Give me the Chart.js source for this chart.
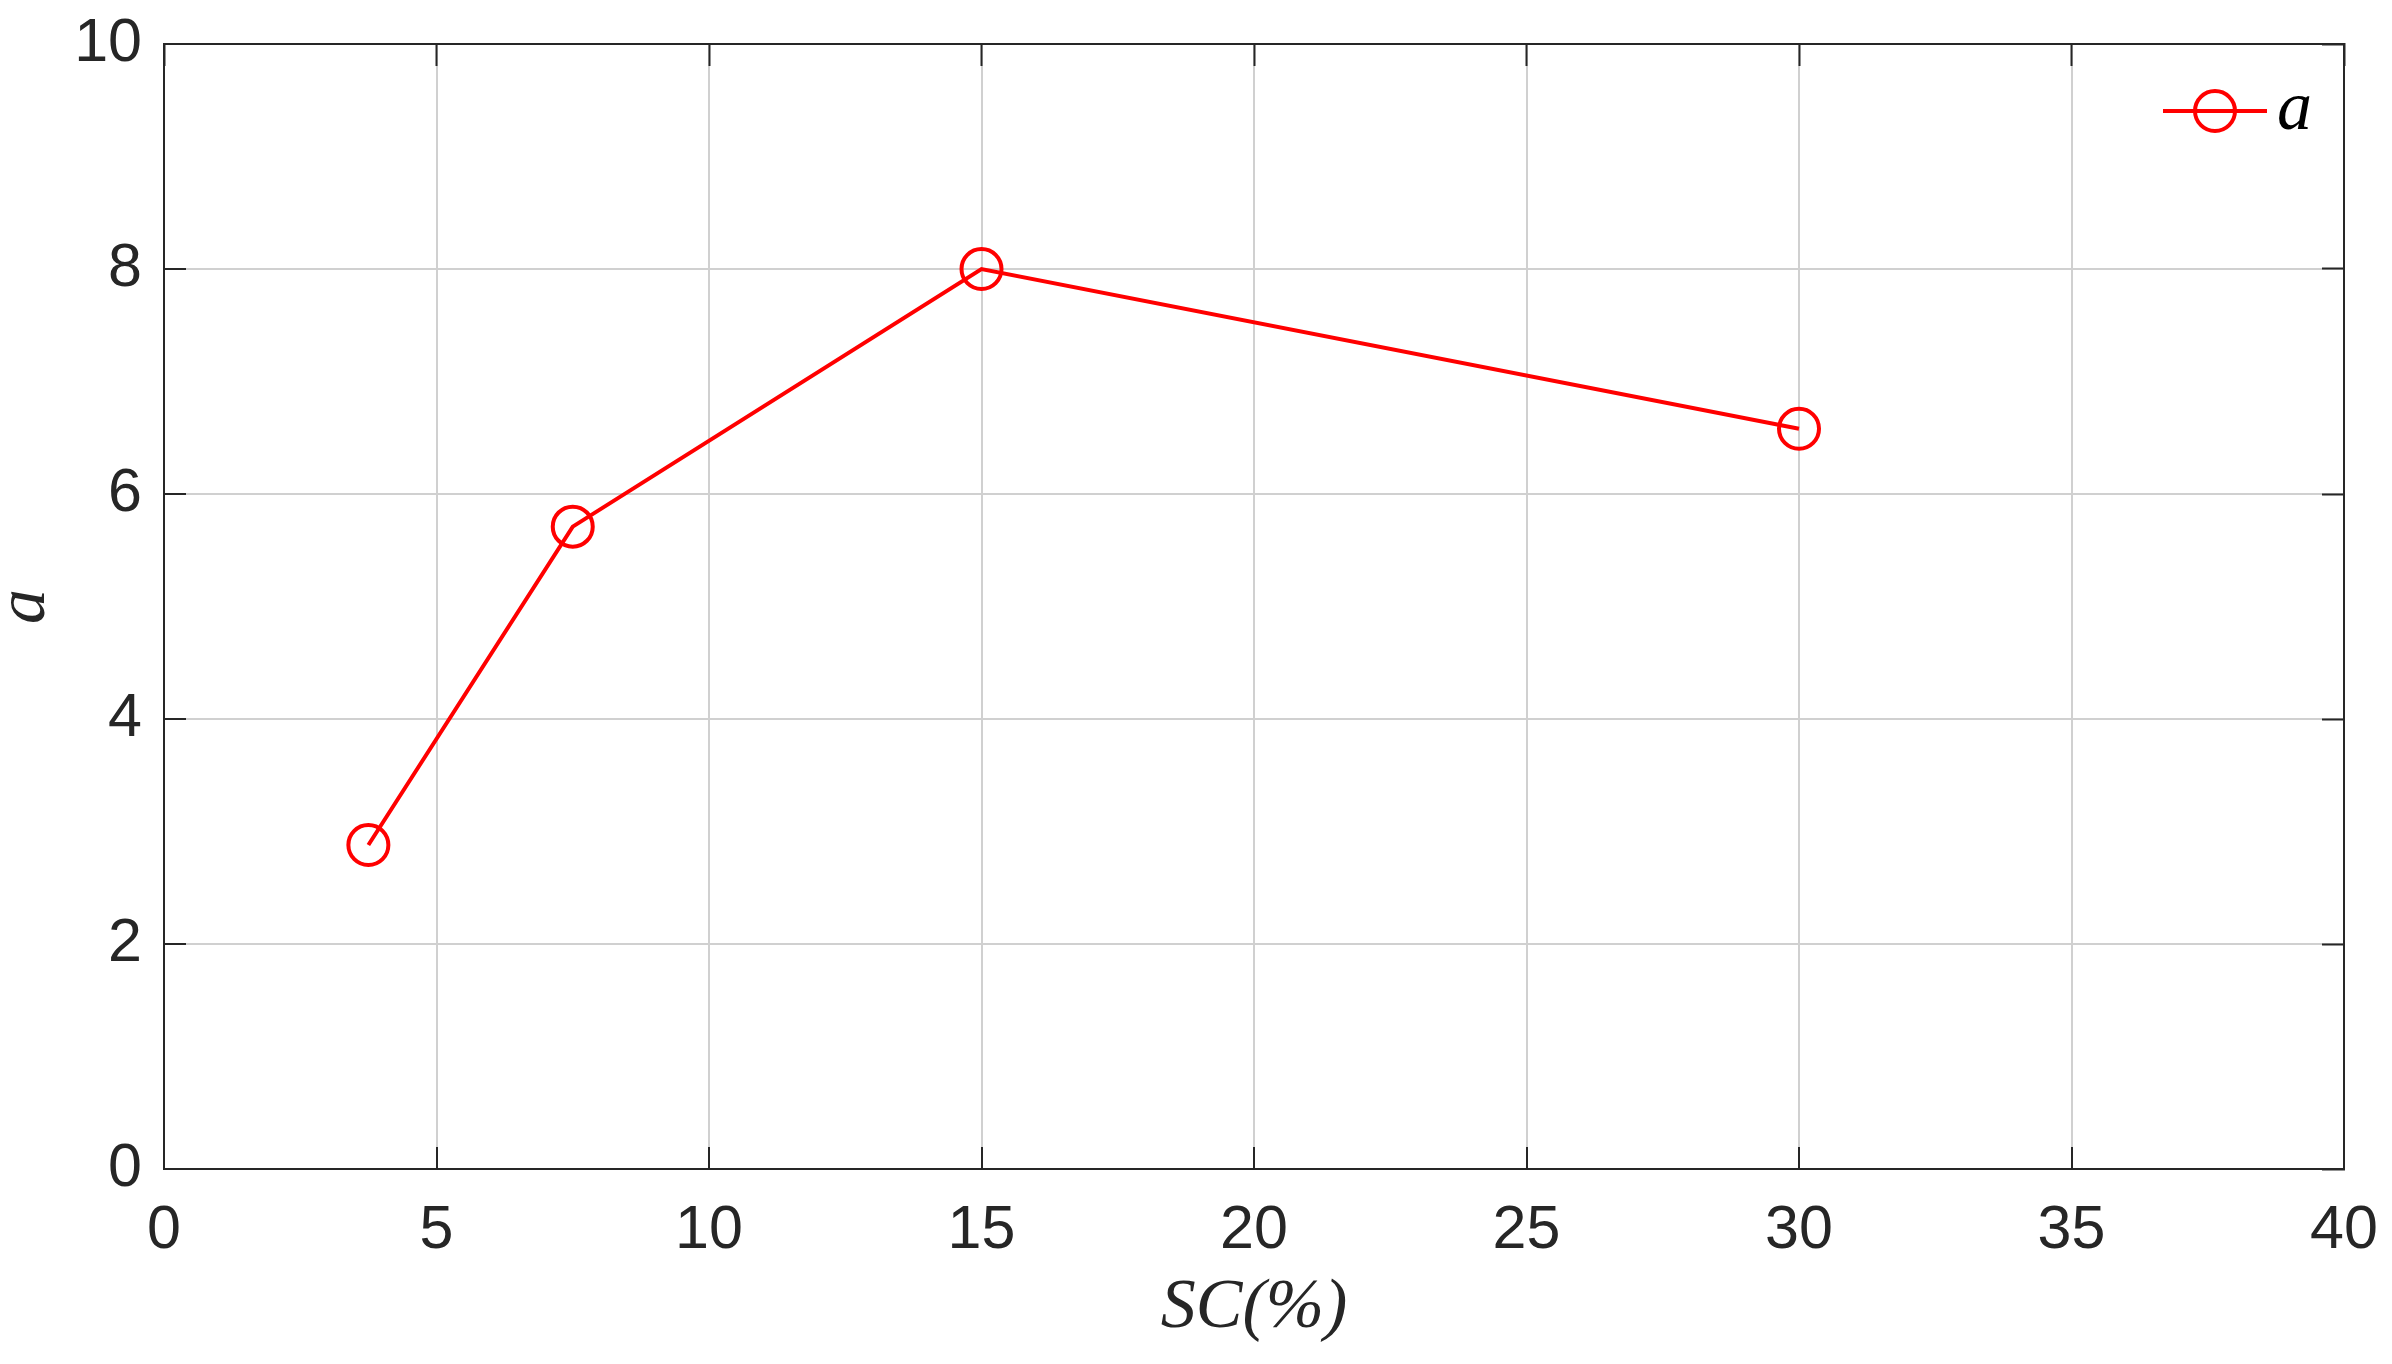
<!DOCTYPE html>
<html lang="en">
<head>
    <meta charset="UTF-8">
    <title>a vs SC(%)</title>
    <script src="https://cdn.jsdelivr.net/npm/chart.js"></script>
    <style>
        body { margin: 0; background: #ffffff; }
        .wrap { width: 2392px; height: 1364px; position: relative; }
    </style>
</head>
<body>
<div class="wrap">
    <canvas id="scChart"></canvas>
</div>

<script>
    // values
    const scPercent = [3.75, 7.5, 15, 30];
    const aValues = [2.88, 5.71, 8.0, 6.58];
    const seriesName = 'a';

    const axisColor = '#262626';
    const gridColor = '#d0d0d0';
    const red = '#ff0000';

    // legend drawn inside the top-right corner of the plot, MATLAB style
    const insideLegend = {
        id: 'insideLegend',
        afterDatasetsDraw(chart) {
            const { ctx, chartArea } = chart;
            const ds = chart.data.datasets[0];
            const cx = chartArea.right - 129;
            const cy = chartArea.top + 67;
            ctx.save();
            ctx.strokeStyle = ds.borderColor;
            ctx.lineWidth = ds.borderWidth;
            ctx.beginPath();
            ctx.moveTo(cx - 52, cy);
            ctx.lineTo(cx + 52, cy);
            ctx.stroke();
            ctx.beginPath();
            ctx.arc(cx, cy, ds.pointRadius, 0, Math.PI * 2);
            ctx.stroke();
            ctx.fillStyle = '#000000';
            ctx.font = 'italic 70px "Liberation Serif", "Times New Roman", serif';
            ctx.textAlign = 'left';
            ctx.textBaseline = 'middle';
            ctx.fillText(ds.label, cx + 62, cy);
            ctx.restore();
        }
    };

    // keep label overhang from pushing the plot area around
    function noPad(scale) {
        scale.paddingTop = 0;
        scale.paddingBottom = 0;
        scale.paddingLeft = 0;
        scale.paddingRight = 0;
    }

    const tickFont = { family: '"Liberation Sans", Arial, sans-serif', size: 61 };
    const titleFont = { family: '"Liberation Serif", "Times New Roman", serif', size: 70, style: 'italic' };

    new Chart(document.getElementById('scChart'), {
        type: 'line',
        data: {
            datasets: [{
                label: seriesName,
                data: scPercent.map((x, i) => ({ x: x, y: aValues[i] })),
                borderColor: red,
                borderWidth: 4,
                tension: 0,
                pointStyle: 'circle',
                pointRadius: 20,
                pointBorderWidth: 4,
                pointBorderColor: red,
                pointBackgroundColor: 'rgba(0,0,0,0)',
                pointHoverRadius: 20
            }]
        },
        options: {
            responsive: true,
            maintainAspectRatio: false,
            animation: false,
            devicePixelRatio: 1,
            layout: { padding: { left: 0, top: 44, right: 48, bottom: 0 } },
            plugins: {
                legend: { display: false },
                tooltip: { enabled: false }
            },
            scales: {
                x: {
                    type: 'linear',
                    position: 'bottom',
                    min: 0, max: 40,
                    ticks: { stepSize: 5, color: axisColor, font: tickFont, padding: 48, maxRotation: 0 },
                    grid: { color: gridColor, lineWidth: 2, drawTicks: true, tickLength: -22, tickColor: axisColor, tickWidth: 2 },
                    border: { display: true, color: axisColor, width: 2 },
                    title: { display: true, text: 'SC(%)', color: axisColor, font: { ...titleFont, lineHeight: '110px' }, padding: 0 },
                    afterFit(scale) { scale.height = 195; noPad(scale); }
                },
                x2: {
                    type: 'linear',
                    position: 'top',
                    min: 0, max: 40,
                    ticks: { stepSize: 5, display: false },
                    grid: { drawOnChartArea: false, drawTicks: true, tickLength: -22, tickColor: axisColor, tickWidth: 2 },
                    border: { display: true, color: axisColor, width: 2 },
                    afterFit(scale) { scale.height = 0; noPad(scale); }
                },
                y: {
                    type: 'linear',
                    position: 'left',
                    min: 0, max: 10,
                    ticks: { stepSize: 2, color: axisColor, font: tickFont, padding: 44 },
                    grid: { color: gridColor, lineWidth: 2, drawTicks: true, tickLength: -22, tickColor: axisColor, tickWidth: 2 },
                    border: { display: true, color: axisColor, width: 2 },
                    title: { display: true, text: 'a', color: axisColor, font: { ...titleFont, lineHeight: '52px' }, padding: 0 },
                    afterFit(scale) { scale.width = 164; noPad(scale); }
                },
                y2: {
                    type: 'linear',
                    position: 'right',
                    min: 0, max: 10,
                    ticks: { stepSize: 2, display: false },
                    grid: { drawOnChartArea: false, drawTicks: true, tickLength: -22, tickColor: axisColor, tickWidth: 2 },
                    border: { display: true, color: axisColor, width: 2 },
                    afterFit(scale) { scale.width = 0; noPad(scale); }
                }
            }
        },
        plugins: [insideLegend]
    });
</script>
</body>
</html>
